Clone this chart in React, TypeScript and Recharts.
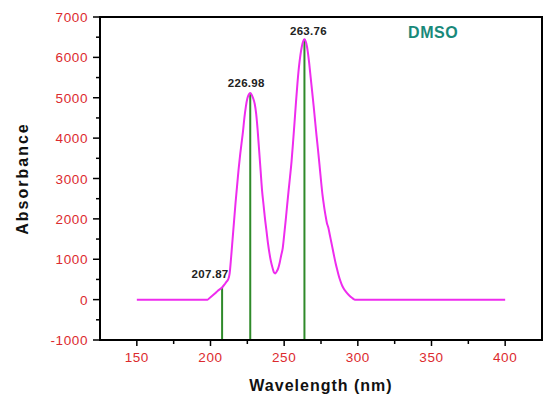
import React from 'react';
import {
    LineChart, Line, XAxis, YAxis, ReferenceLine, ReferenceDot, ReferenceArea, Label
} from 'recharts';

document.body.style.margin = '0';

const FONT = '"Liberation Sans", Arial, sans-serif';
const TICK_RED = '#dc2a2e';

// UV-Vis spectrum in DMSO
const wavelengths = [
    150, 198, 200, 203, 205, 207.87, 210, 211, 212, 213, 214, 215, 216, 217, 218, 219, 220,
    221, 222, 223, 224, 225, 226, 226.98, 228, 229, 230, 231, 232, 233, 234, 235, 236,
    237, 238, 239, 240, 241, 242, 243, 244, 245, 246, 247, 248, 249, 250, 251, 252,
    253, 254, 255, 256, 257, 258, 259, 260, 261, 262, 263, 263.76, 265, 266, 267, 268,
    269, 270, 271, 272, 273, 274, 275, 276, 277, 278, 279, 280, 281, 282, 283, 284,
    285, 286, 287, 288, 289, 290, 292, 294, 296, 298, 400
];
const absorbance = [
    0, 0, 60, 150, 220, 300, 400, 450, 500, 650, 1050, 1500, 1950, 2400, 2800, 3200, 3550,
    3850, 4150, 4500, 4780, 4980, 5080, 5120, 5070, 4980, 4850, 4600, 4200, 3700, 3200, 2700, 2350,
    2000, 1700, 1400, 1150, 950, 800, 680, 650, 700, 780, 920, 1100, 1270, 1600, 1950, 2330,
    2700, 3050, 3420, 3880, 4370, 4880, 5350, 5750, 6050, 6270, 6410, 6450, 6350, 6150, 5850, 5500,
    5150, 4800, 4420, 4050, 3700, 3330, 2950, 2600, 2330, 2100, 1900, 1780, 1600, 1420, 1240, 1060,
    890, 740, 600, 480, 380, 300, 190, 110, 45, 0, 0
];

const peakWavelengths = [207.87, 226.98, 263.76];
const peakHeights = [300, 5120, 6450];
const peakLabels = ['207.87', '226.98', '263.76'];
const peakLabelShift = [[-12, -10], [-4, -6], [4, -4]];

const xTicks = [150, 175, 200, 225, 250, 275, 300, 325, 350, 375, 400];
const yTicks = [-1000, -500, 0, 500, 1000, 1500, 2000, 2500, 3000, 3500, 4000, 4500, 5000, 5500, 6000, 6500, 7000];

const spectrum = wavelengths.map((w, i) => ({ w, a: absorbance[i] }));

const XTick = (props: any) => {
    const { x, y, payload } = props;
    const major = payload.value % 50 === 0;
    return (
        <g>
            <line x1={x} x2={x} y1={y} y2={y + (major ? 6 : 4)} stroke="#000" strokeWidth={1.5} />
            {major && (
                <text x={x} y={y + 22} textAnchor="middle" fill={TICK_RED} fontSize={13.5} fontFamily={FONT} letterSpacing={0.6}>
                    {payload.value}
                </text>
            )}
        </g>
    );
};

const YTick = (props: any) => {
    const { x, y, payload } = props;
    const major = payload.value % 1000 === 0;
    return (
        <g>
            <line x1={x} x2={x - (major ? 7 : 4)} y1={y} y2={y} stroke="#000" strokeWidth={1.5} />
            {major && (
                <text x={x - 12} y={y + 5} textAnchor="end" fill={TICK_RED} fontSize={13.5} fontFamily={FONT} letterSpacing={0.6}>
                    {payload.value}
                </text>
            )}
        </g>
    );
};

export default function App() {
    return (
        <div style={{ position: 'relative', width: 543, height: 398, background: '#fff' }}>
            <LineChart width={543} height={398} data={spectrum} margin={{ top: 17, right: 1, left: 0, bottom: 0 }}>
                <XAxis
                    dataKey="w"
                    type="number"
                    domain={[125, 425]}
                    ticks={xTicks}
                    interval={0}
                    allowDataOverflow
                    tickSize={0}
                    tickMargin={0}
                    tickLine={false}
                    tick={<XTick />}
                    height={58}
                    axisLine={{ stroke: '#000', strokeWidth: 2 }}
                >
                    <Label
                        content={({ viewBox }: any) => (
                            <text x={viewBox.x + viewBox.width / 2} y={viewBox.y + 51} textAnchor="middle"
                                fontSize={16} fontWeight="bold" fontFamily={FONT} letterSpacing={1} fill="#111">
                                Wavelength (nm)
                            </text>
                        )}
                    />
                </XAxis>
                <YAxis
                    type="number"
                    domain={[-1000, 7000]}
                    ticks={yTicks}
                    interval={0}
                    allowDataOverflow
                    tickSize={0}
                    tickMargin={0}
                    tickLine={false}
                    tick={<YTick />}
                    width={100}
                    axisLine={{ stroke: '#000', strokeWidth: 2 }}
                >
                    <Label
                        content={({ viewBox }: any) => {
                            const cx = 28;
                            const cy = viewBox.y + viewBox.height / 2;
                            return (
                                <text x={cx} y={cy} textAnchor="middle" transform={`rotate(-90 ${cx} ${cy})`}
                                    fontSize={16} fontWeight="bold" fontFamily={FONT} letterSpacing={2} fill="#111">
                                    Absorbance
                                </text>
                            );
                        }}
                    />
                </YAxis>
                <ReferenceArea x1={125} x2={425} y1={-1000} y2={7000} fill="none" stroke="#000" strokeWidth={2} />
                {peakWavelengths.map((p, i) => (
                    <ReferenceLine
                        key={`peak-${i}`}
                        segment={[{ x: p, y: -1000 }, { x: p, y: peakHeights[i] }]}
                        stroke="#2f8a2a"
                        strokeWidth={2}
                    />
                ))}
                <Line
                    dataKey="a"
                    type="monotone"
                    stroke="#ee2cee"
                    strokeWidth={2}
                    dot={false}
                    isAnimationActive={false}
                />
                {peakWavelengths.map((p, i) => (
                    <ReferenceDot
                        key={`lbl-${i}`}
                        x={p}
                        y={peakHeights[i]}
                        r={1}
                        fill="none"
                        stroke="none"
                        label={{
                            content: ({ viewBox }: any) => (
                                <text x={viewBox.x + viewBox.width / 2 + peakLabelShift[i][0]}
                                    y={viewBox.y + viewBox.height / 2 + peakLabelShift[i][1]}
                                    textAnchor="middle" fontSize={11.5} fontWeight="bold"
                                    fontFamily={FONT} fill="#222" letterSpacing={0.3}>
                                    {peakLabels[i]}
                                </text>
                            )
                        }}
                    />
                ))}
            </LineChart>
            <div style={{
                position: 'absolute', left: 408, top: 24, fontFamily: FONT, fontWeight: 'bold',
                fontSize: 16, letterSpacing: 0.6, color: '#19897a'
            }}>
                DMSO
            </div>
        </div>
    );
}
